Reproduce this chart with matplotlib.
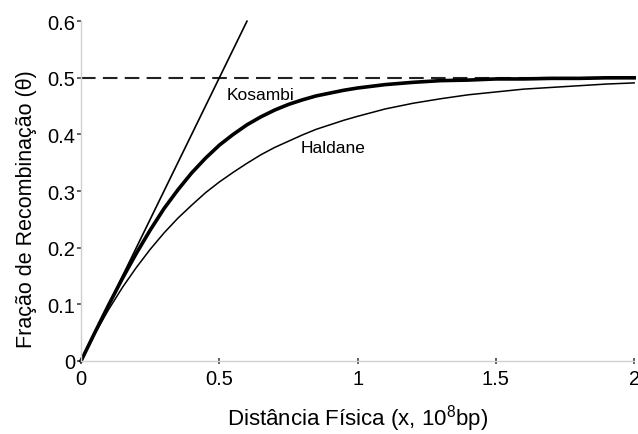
import matplotlib
matplotlib.use("Agg")
import matplotlib.pyplot as plt

plt.rcParams['font.family'] = ['Liberation Sans', 'DejaVu Sans']

# distance values (units of 10^8 bp)
dist = [0.0, 0.05, 0.1, 0.15, 0.2, 0.25, 0.3, 0.35, 0.4, 0.45, 0.5,
        0.55, 0.6, 0.65, 0.7, 0.75, 0.8, 0.85, 0.9, 0.95, 1.0,
        1.1, 1.2, 1.3, 1.4, 1.5, 1.6, 1.7, 1.8, 1.9, 2.0]
haldane = [0.0, 0.048, 0.091, 0.130, 0.165, 0.197, 0.226, 0.252, 0.275, 0.297, 0.316,
           0.333, 0.349, 0.364, 0.377, 0.388, 0.399, 0.409, 0.417, 0.425, 0.432,
           0.445, 0.455, 0.463, 0.470, 0.475, 0.480, 0.483, 0.486, 0.489, 0.491]
kosambi = [0.0, 0.050, 0.099, 0.146, 0.190, 0.231, 0.269, 0.302, 0.332, 0.358, 0.381,
           0.400, 0.417, 0.431, 0.443, 0.453, 0.461, 0.468, 0.473, 0.478, 0.482,
           0.488, 0.492, 0.495, 0.496, 0.498, 0.498, 0.499, 0.499, 0.500, 0.500]
linear_x = [0.0, 0.6]
linear_y = [0.0, 0.6]
limit = 0.5

xticks = [0, 0.5, 1, 1.5, 2]
xticklabels = ['0', '0.5', '1', '1.5', '2']
yticks = [0, 0.1, 0.2, 0.3, 0.4, 0.5, 0.6]
yticklabels = ['0', '0.1', '0.2', '0.3', '0.4', '0.5', '0.6']

fig = plt.figure(figsize=(6.38, 4.35), dpi=100)
ax = fig.add_axes([0.127, 0.168, 0.867, 0.781])

ax.axhline(limit, color='#222222', lw=1.5, dashes=(7, 3.5))
ax.plot(linear_x, linear_y, color='black', lw=1.2, clip_on=False)
ax.plot(dist, haldane, color='black', lw=1.1, clip_on=False)
ax.plot(dist, kosambi, color='black', lw=2.6, clip_on=False)

ax.text(0.528, 0.471, 'Kosambi', fontsize=12.5, va='center', ha='left')
ax.text(0.793, 0.377, 'Haldane', fontsize=12.5, va='center', ha='left')

ax.set_xlim(0, 2)
ax.set_ylim(0, 0.6)
ax.set_xticks(xticks)
ax.set_xticklabels(xticklabels)
ax.set_yticks(yticks)
ax.set_yticklabels(yticklabels)

for s in ['top', 'right']:
    ax.spines[s].set_visible(False)
for s in ['left', 'bottom']:
    ax.spines[s].set_color('#d0d0d0')
    ax.spines[s].set_linewidth(1.0)

ax.tick_params(axis='y', direction='out', length=3, width=1.2, color='#444444',
               labelsize=14.5, pad=1)
ax.tick_params(axis='x', direction='inout', length=4, width=1.2, color='#444444',
               labelsize=14.5, pad=4)

ax.set_xlabel('Distância Física (x, 10$^{\\mathregular{8}}$bp)', fontsize=16, labelpad=10)
ax.set_ylabel('Fração de Recombinação (θ)', fontsize=15.5)
ax.yaxis.set_label_coords(-0.08, 0.45)

fig.savefig('out.png', dpi=100)
